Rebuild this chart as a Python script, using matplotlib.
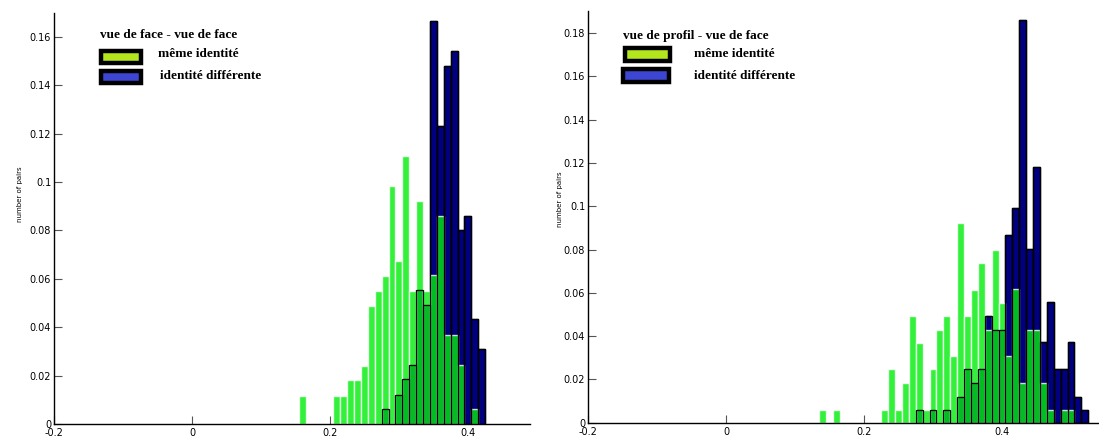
import matplotlib
matplotlib.use("Agg")
import matplotlib.pyplot as plt
from matplotlib.patches import Rectangle

# ---------------- data ----------------
left_same_x = [0.16, 0.21, 0.22, 0.23, 0.24, 0.25, 0.26, 0.27, 0.28, 0.29, 0.30,
               0.31, 0.32, 0.33, 0.34, 0.35, 0.36, 0.37, 0.38, 0.39, 0.41]
left_same_y = [0.0116, 0.0116, 0.0116, 0.0182, 0.0182, 0.0240, 0.0487, 0.0551,
               0.0611, 0.0983, 0.0675, 0.1107, 0.0551, 0.0923, 0.0551, 0.0614,
               0.0861, 0.0366, 0.0366, 0.0242, 0.0060]
left_diff_x = [0.28, 0.30, 0.31, 0.32, 0.33, 0.34, 0.35, 0.36, 0.37, 0.38, 0.39,
               0.40, 0.41, 0.42]
left_diff_y = [0.0060, 0.0118, 0.0185, 0.0242, 0.0553, 0.0490, 0.1666, 0.1232,
               0.1479, 0.1542, 0.0801, 0.0861, 0.0432, 0.0308]

right_same_x = [0.14, 0.16, 0.23, 0.24, 0.25, 0.26, 0.27, 0.28, 0.29, 0.30, 0.31,
                0.32, 0.33, 0.34, 0.35, 0.36, 0.37, 0.38, 0.39, 0.40, 0.41, 0.42,
                0.43, 0.44, 0.45, 0.46, 0.47, 0.49, 0.50]
right_same_y = [0.0058, 0.0058, 0.0058, 0.0246, 0.0058, 0.0183, 0.0492, 0.0369,
                0.0058, 0.0246, 0.0430, 0.0492, 0.0307, 0.0925, 0.0492, 0.0614,
                0.0740, 0.0430, 0.0799, 0.0553, 0.0307, 0.0617, 0.0183, 0.0430,
                0.0430, 0.0183, 0.0058, 0.0058, 0.0058]
right_diff_x = [0.28, 0.30, 0.32, 0.34, 0.35, 0.36, 0.37, 0.38, 0.39, 0.40, 0.41,
                0.42, 0.43, 0.44, 0.45, 0.46, 0.47, 0.48, 0.49, 0.50, 0.51, 0.52]
right_diff_y = [0.0058, 0.0058, 0.0058, 0.0121, 0.0246, 0.0183, 0.0246, 0.0495,
                0.0430, 0.0430, 0.0866, 0.0991, 0.1862, 0.0803, 0.1180, 0.0372,
                0.0556, 0.0246, 0.0246, 0.0372, 0.0120, 0.0058]

left_title = "vue de face - vue de face"
right_title = "vue de profil - vue de face"
legend_labels = ["même identité", "identité différente"]
ylabel = "number of pairs"
left_yticks = [0, 0.02, 0.04, 0.06, 0.08, 0.1, 0.12, 0.14, 0.16]
right_yticks = [0, 0.02, 0.04, 0.06, 0.08, 0.1, 0.12, 0.14, 0.16, 0.18]
xticks = [-0.2, 0, 0.2, 0.4]

# ---------------- styles ----------------
W, H = 1099, 438
NAVY = "#000080"
GREEN = (0.0, 0.93, 0.04)
LEG_GREEN = "#b4e61e"
LEG_BLUE = "#3c46d2"
SERIF = ["Liberation Serif", "DejaVu Serif"]

fig = plt.figure(figsize=(W / 100, H / 100), dpi=100)


def px_axes(x0, x1, ytop, ybot):
    return fig.add_axes([x0 / W, (H - ybot) / H, (x1 - x0) / W, (ybot - ytop) / H])


def draw_panel(ax, sx, sy, dx, dy, xlim, ylim, yticks):
    ax.set_axisbelow(True)
    ax.bar(dx, dy, width=0.01, color=NAVY, edgecolor="black", linewidth=1.0, zorder=2)
    ax.bar(sx, sy, width=0.01, color=GREEN, alpha=0.8, edgecolor="white",
           linewidth=1.0, zorder=3)
    ax.bar(dx, dy, width=0.01, facecolor="none", edgecolor="black", linewidth=0.9,
           zorder=4)
    ax.set_xlim(*xlim)
    ax.set_ylim(*ylim)
    ax.set_xticks(xticks)
    ax.set_xticklabels(["%g" % t for t in xticks])
    ax.set_yticks(yticks)
    ax.set_yticklabels(["%g" % t for t in yticks])
    for s in ("top", "right"):
        ax.spines[s].set_visible(False)
    for s in ("left", "bottom"):
        ax.spines[s].set_linewidth(1.0)
        ax.spines[s].set_zorder(5)
    ax.tick_params(direction="in", length=6, width=0.8, labelsize=7,
                   color="#555555", pad=2)
    ax.tick_params(axis="x", pad=3)
    ax.set_ylabel(ylabel, fontsize=5)


axL = px_axes(54, 530, 12.6, 424)
draw_panel(axL, left_same_x, left_same_y, left_diff_x, left_diff_y,
           (-0.2, 0.49), (0, 0.17), left_yticks)
axL.yaxis.set_label_coords((23 - 54) / 476, (424 - 194) / 411.4)

axR = px_axes(588, 1105.5, 11.5, 422.7)
draw_panel(axR, right_same_x, right_same_y, right_diff_x, right_diff_y,
           (-0.2, 0.55), (0, 0.19), right_yticks)
axR.yaxis.set_label_coords((563 - 588) / 517.5, (422.7 - 199) / 411.2)


# ---------------- legends (drawn manually, figure pixels) ----------------
def fx(x):
    return x / W


def fy(y):
    return (H - y) / H


def legend(title_xy, boxes, texts_xy, colors):
    fig.text(fx(title_xy[0]), fy(title_xy[1]), title_xy[2], family=SERIF,
             weight="bold", fontsize=9.5, va="center", ha="left")
    for (x0, y0, x1, y1), c in zip(boxes, colors):
        fig.patches.append(Rectangle((fx(x0), fy(y1)), fx(x1 - x0), (y1 - y0) / H,
                                     transform=fig.transFigure, facecolor=c,
                                     edgecolor="black", linewidth=3.2))
    for (tx, ty), lab in zip(texts_xy, legend_labels):
        fig.text(fx(tx), fy(ty), lab, family=SERIF, weight="bold", fontsize=9.5,
                 va="center", ha="left")


legend((100, 35, left_title),
       [(101.5, 50.5, 141.5, 62.5), (101.5, 70.5, 141.5, 82.5)],
       [(158, 54), (160, 76)], [LEG_GREEN, LEG_BLUE])
legend((623, 36, right_title),
       [(624.5, 48.5, 669.5, 61), (622.5, 69.5, 668.5, 82)],
       [(694, 54), (694, 76)], [LEG_GREEN, LEG_BLUE])

fig.savefig("out.png", dpi=100)
